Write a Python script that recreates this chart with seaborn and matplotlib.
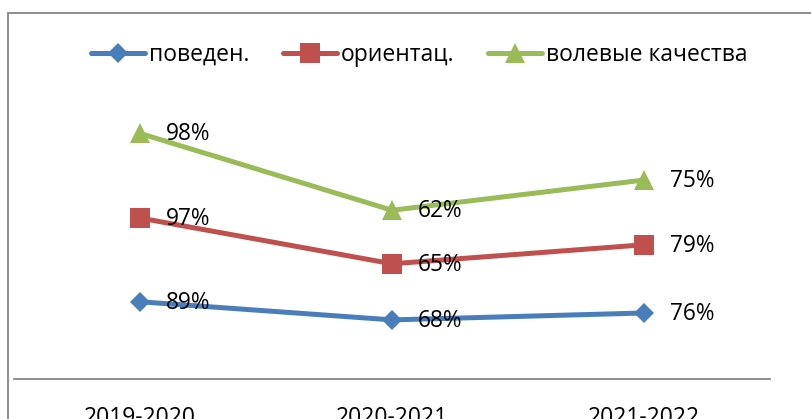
import numpy as np
import pandas as pd
import matplotlib.pyplot as plt
import seaborn as sns
from matplotlib.lines import Line2D

# data
years = ['2019-2020', '2020-2021', '2021-2022']
series_names = ['поведен.', 'ориентац.', 'волевые качества']
povedeniye = [89, 68, 76]
orientats = [97, 65, 79]
volevye = [98, 62, 75]
colors = ['#4A7EBB', '#C0504D', '#9BBB59']
markers = ['D', 's', '^']
msizes = [10.5, 14, 14.5]

sns.set_style('white')
plt.rcParams['font.family'] = ['Open Sans', 'DejaVu Sans']
plt.rcParams['text.color'] = 'black'
plt.rcParams['xtick.color'] = 'black'

fig = plt.figure(figsize=(8.11, 4.19), dpi=100)
ax = fig.add_axes([14/811, 1 - 378.6/419, 756/811, 259/419])

# stacked line chart (Excel style): each series drawn on top of previous
values = [povedeniye, orientats, volevye]
cum = np.cumsum(np.array(values), axis=0)
x = np.arange(len(years))

handles = []
for i, name in enumerate(series_names):
    df = pd.DataFrame({'x': x, 'y': cum[i]})
    sns.lineplot(data=df, x='x', y='y', ax=ax, color=colors[i], linewidth=3.6,
                 marker=markers[i], markersize=msizes[i], markeredgewidth=0,
                 zorder=3 + i)
    for xi, yi, v in zip(x, cum[i], values[i]):
        ax.annotate(f'{v}%', (xi, yi), xytext=(26, -1), textcoords='offset pixels',
                    ha='left', va='center', fontsize=16.3, color='black', zorder=10)
    handles.append(Line2D([0], [0], color=colors[i], linewidth=3.6, marker=markers[i],
                          markersize=msizes[i], markeredgewidth=0))

ax.set_xlim(-0.5, 2.5)
ax.set_ylim(0, 300)
ax.set_xticks(x)
ax.set_xticklabels(years, fontsize=16.5, color='black')
ax.tick_params(axis='x', length=0, pad=20)
ax.set_yticks([])
ax.set_xlabel('')
ax.set_ylabel('')
for s in ['top', 'right', 'left']:
    ax.spines[s].set_visible(False)
ax.spines['bottom'].set_color('#868686')
ax.spines['bottom'].set_linewidth(1.3)
ax.set_facecolor('none')

leg = fig.legend(handles, series_names, loc='center', bbox_to_anchor=(0.517, 1 - 55/419),
                 ncol=3, frameon=False, fontsize=16.5, handlelength=2.35,
                 handletextpad=0.15, columnspacing=1.5)
for t in leg.get_texts():
    t.set_color('black')

# chart area border (cropped on right/bottom)
fig.add_artist(Line2D([8/811, 8/811], [0, 1 - 13/419], transform=fig.transFigure,
                      color='#868686', linewidth=1.3))
fig.add_artist(Line2D([8/811, 1], [1 - 13/419, 1 - 13/419], transform=fig.transFigure,
                      color='#868686', linewidth=1.3))

fig.savefig('out.png', dpi=100)
